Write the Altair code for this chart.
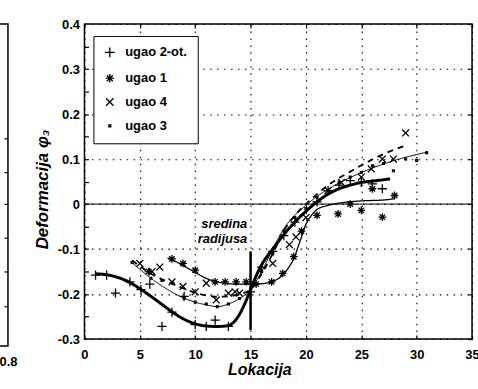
import altair as alt
import pandas as pd

# ---------------- data ----------------
SERIES = ["ugao 2-ot.", "ugao 1", "ugao 4", "ugao 3"]

# fitted curves
A_line_x = [1, 2, 3, 4, 5, 6, 7, 8, 9, 10, 11, 12, 13, 13.5, 14, 14.5, 15, 15.5, 16, 17, 18, 19, 20, 21, 22, 23, 24, 25, 26, 27, 27.6]
A_line_y = [-0.155, -0.157, -0.163, -0.173, -0.188, -0.205, -0.223, -0.241, -0.256, -0.266, -0.271, -0.272, -0.27, -0.262, -0.245, -0.22, -0.19, -0.16, -0.135, -0.1, -0.068, -0.04, -0.016, 0.005, 0.022, 0.034, 0.042, 0.048, 0.051, 0.054, 0.056]

B_line_x = [7.5, 8, 9, 10, 11, 12, 13, 14, 15, 16, 17, 18, 19, 19.5, 20, 20.5, 21, 22, 23, 24, 25, 26, 27, 28]
B_line_y = [-0.12, -0.125, -0.138, -0.152, -0.165, -0.173, -0.177, -0.178, -0.178, -0.177, -0.172, -0.155, -0.115, -0.08, -0.045, -0.025, -0.012, -0.003, 0.002, 0.005, 0.007, 0.008, 0.009, 0.012]

C_line_x = [4.3, 5, 6, 7, 8, 9, 10, 11, 12, 13, 14, 15, 16, 17, 18, 19, 20, 21, 22, 23, 24, 25, 26, 27, 28, 29]
C_line_y = [-0.125, -0.138, -0.155, -0.167, -0.178, -0.188, -0.197, -0.203, -0.206, -0.205, -0.2, -0.19, -0.155, -0.11, -0.06, -0.025, 0.0, 0.022, 0.042, 0.058, 0.072, 0.086, 0.099, 0.111, 0.121, 0.13]

D_line_x = [4.3, 5, 6, 7, 8, 9, 10, 11, 12, 13, 14, 15, 16, 17, 18, 19, 20, 21, 22, 23, 24, 25, 26, 27, 28, 29, 30, 31]
D_line_y = [-0.13, -0.145, -0.165, -0.182, -0.197, -0.209, -0.218, -0.224, -0.228, -0.222, -0.21, -0.19, -0.15, -0.1, -0.055, -0.025, -0.003, 0.017, 0.033, 0.047, 0.059, 0.07, 0.08, 0.089, 0.097, 0.104, 0.11, 0.116]

# measured points
A_pts_x = [1, 2, 2.8, 4.1, 5.1, 5.9, 7, 7.9, 9, 10, 11, 11.8, 13, 15, 16, 17, 18, 19, 21, 22, 23, 24, 25, 26, 26.9]
A_pts_y = [-0.158, -0.158, -0.198, -0.173, -0.19, -0.178, -0.272, -0.24, -0.205, -0.268, -0.272, -0.258, -0.272, -0.195, -0.14, -0.105, -0.07, -0.04, 0.005, 0.03, 0.042, 0.052, 0.048, 0.045, 0.034]

B_pts_x = [5.8, 7.9, 8.9, 10, 11.8, 12.7, 13.7, 14.6, 15.5, 16.9, 17.9, 18.9, 19.6, 21, 22.9, 24, 25, 26, 26.9, 28]
B_pts_y = [-0.15, -0.122, -0.132, -0.147, -0.173, -0.173, -0.173, -0.173, -0.178, -0.173, -0.154, -0.117, -0.06, -0.025, -0.022, 0.0, -0.014, 0.034, -0.029, 0.019]

C_pts_x = [5, 6.1, 6.8, 7.9, 8.9, 10, 11, 11.9, 13, 13.6, 14, 17, 18.5, 19.1, 20, 22, 23.2, 25, 25.9, 26.9, 27.9, 29]
C_pts_y = [-0.132, -0.15, -0.14, -0.173, -0.183, -0.195, -0.176, -0.213, -0.198, -0.195, -0.198, -0.132, -0.09, -0.073, -0.03, 0.03, 0.048, 0.06, 0.078, 0.1, 0.1, 0.158]

D_pts_x = [4.3, 6, 7, 8, 9, 10, 11, 12, 13, 14, 15, 16, 17, 18, 19, 20, 21, 22, 23, 24, 25, 26, 27, 27.9, 29, 30, 30.9]
D_pts_y = [-0.13, -0.165, -0.17, -0.176, -0.209, -0.218, -0.222, -0.228, -0.222, -0.21, -0.19, -0.15, -0.11, -0.06, -0.03, -0.01, 0.015, 0.03, 0.048, 0.06, 0.07, 0.085, 0.09, 0.074, 0.1, 0.097, 0.114]

NOTE_X = [14.7, 14.7]
NOTE_Y = [-0.054, -0.087]
NOTE_T = ["sredina", "radijusa"]

MID_X = [15]
MID_Y1 = [-0.105]
MID_Y2 = [-0.28]

X_TICKS = [0, 5, 10, 15, 20, 25, 30, 35]
Y_TICKS = [-0.3, -0.2, -0.1, 0, 0.1, 0.2, 0.3, 0.4]
Y_MINOR = [-0.25, -0.2, -0.15, -0.1, -0.05, 0, 0.05, 0.1, 0.15, 0.2, 0.25, 0.3, 0.35]
LEFT_PANEL_TICKS = [0.125, 0.23, 0.335, 0.44, 0.54, 0.645]

# ---------------- tables ----------------
lines = pd.concat([
    pd.DataFrame({"s": s, "x": lx, "y": ly})
    for s, lx, ly in zip(SERIES, [A_line_x, B_line_x, C_line_x, D_line_x],
                         [A_line_y, B_line_y, C_line_y, D_line_y])
], ignore_index=True)
pts = pd.concat([
    pd.DataFrame({"s": s, "x": px, "y": py})
    for s, px, py in zip(SERIES, [A_pts_x, B_pts_x, C_pts_x, D_pts_x],
                         [A_pts_y, B_pts_y, C_pts_y, D_pts_y])
], ignore_index=True)
notes = pd.DataFrame({"x": NOTE_X, "y": NOTE_Y, "t": NOTE_T})
mid = pd.DataFrame({"x": MID_X, "y": MID_Y1, "y2": MID_Y2})
zero = pd.DataFrame({"y": [0]})

FONT = "Liberation Sans"
W, H = 390, 317
W1, H1 = 60, 324
PAD_LEFT, PAD_TOP = 7 - W1, 16

SHAPES = [
    "M-1,0L1,0M0,-1L0,1",
    "M-0.85,0L0.85,0M0,-0.85L0,0.85M-0.6,-0.6L0.6,0.6M-0.6,0.6L0.6,-0.6",
    "M-0.75,-0.75L0.75,0.75M-0.75,0.75L0.75,-0.75",
    "M-0.2,-0.2L0.2,-0.2L0.2,0.2L-0.2,0.2Z",
]
LINE_WIDTHS = [3, 1.3, 1.8, 1.0]
LINE_DASHES = [[1, 0], [1, 0], [6, 5], [1, 0]]

xs = alt.Scale(domain=[0, 35], nice=False, zero=False)
ys = alt.Scale(domain=[-0.3, 0.4], nice=False, zero=False)

tick_common = dict(labels=False, domain=False, grid=False, ticks=True, tickSize=4,
                   tickColor="black", tickWidth=1.2, title=None)
grid_common = dict(grid=True, gridDash=[1.5, 5.5], gridColor="black", gridOpacity=1, gridWidth=1.1)

# axis layer with labels and grid
ax_main = alt.Chart(pts).mark_point(opacity=0).encode(
    x=alt.X("x:Q", scale=xs, axis=alt.Axis(
        values=X_TICKS, ticks=False, domain=False, labelFont=FONT, labelFontWeight="bold", labelFontSize=13,
        labelColor="black", labelFlush=False, labelPadding=10, title="Lokacija",
        titleFont=FONT, titleFontSize=16, titleFontStyle="italic", titleFontWeight="bold",
        titleColor="black", titleX=176, titleY=36, titleBaseline="alphabetic", titleAlign="center",
        **grid_common)),
    y=alt.Y("y:Q", scale=ys, axis=alt.Axis(
        values=Y_TICKS, ticks=False, domain=False, labelFont=FONT, labelFontWeight="bold", labelFontSize=13,
        labelColor="black", labelPadding=5, labelFlush=False,
        labelExpr="datum.value == 0 ? '0' : (datum.value < 0 ? '-' : '') + format(abs(datum.value), '.1f')",
        title="Deformacija φ₃", titleFont=FONT, titleFontSize=17, titleFontStyle="italic",
        titleFontWeight="bold", titleColor="black", titleX=-37, titleY=166,
        titleBaseline="alphabetic", titleAlign="center", **grid_common)),
)
# inward ticks on bottom/left
ax_in1 = alt.Chart(pts).mark_point(opacity=0).encode(
    x=alt.X("x:Q", scale=xs, axis=alt.Axis(orient="top", offset=-H, values=X_TICKS, **tick_common)),
    y=alt.Y("y:Q", scale=ys, axis=alt.Axis(orient="right", offset=-W, values=Y_MINOR, **tick_common)),
)
# inward ticks on top/right
ax_in2 = alt.Chart(pts).mark_point(opacity=0).encode(
    x=alt.X("x:Q", scale=xs, axis=alt.Axis(orient="bottom", offset=-H, values=X_TICKS, **tick_common)),
    y=alt.Y("y:Q", scale=ys, axis=alt.Axis(orient="left", offset=-W, values=Y_TICKS, **tick_common)),
)

zero_rule = alt.Chart(zero).mark_rule(color="black", strokeWidth=1).encode(
    y=alt.Y("y:Q", scale=ys, axis=None))

# one line layer per series (fixed styles, so no extra legends get merged with the shape legend)
line_layers = [
    alt.Chart(lines).transform_filter(alt.datum.s == s).mark_line(
        color="black", interpolate="monotone", strokeWidth=w, strokeDash=d).encode(
        x=alt.X("x:Q", scale=xs, axis=None),
        y=alt.Y("y:Q", scale=ys, axis=None),
    )
    for s, w, d in zip(SERIES, LINE_WIDTHS, LINE_DASHES)
]

# legends of a concatenated chart live at the top level: position relative to its origin
pt_layer = alt.Chart(pts).mark_point(filled=False, color="black", strokeWidth=1.3,
                                     size=85, opacity=1).encode(
    x=alt.X("x:Q", scale=xs, axis=None),
    y=alt.Y("y:Q", scale=ys, axis=None),
    shape=alt.Shape("s:N", scale=alt.Scale(domain=SERIES, range=SHAPES), legend=alt.Legend(
        title=None, orient="none", legendX=93 - PAD_LEFT, legendY=28 - PAD_TOP,
        strokeColor="black", fillColor="white",
        padding=10, rowPadding=10, labelFont=FONT, labelFontWeight="bold", labelFontSize=13,
        labelColor="black", symbolSize=100, symbolStrokeWidth=1.3, symbolStrokeColor="black",
        labelOffset=9, cornerRadius=0)),
)

mid_rule = alt.Chart(mid).mark_rule(color="black", strokeWidth=2.5).encode(
    x=alt.X("x:Q", scale=xs, axis=None),
    y=alt.Y("y:Q", scale=ys, axis=None),
    y2="y2:Q",
)

note_layer = alt.Chart(notes).mark_text(align="right", baseline="alphabetic", font=FONT,
                                        fontSize=13, fontStyle="italic", fontWeight="bold",
                                        color="black").encode(
    x=alt.X("x:Q", scale=xs, axis=None),
    y=alt.Y("y:Q", scale=ys, axis=None),
    text="t:N",
)

main = alt.layer(ax_main, ax_in1, ax_in2, zero_rule, *line_layers, mid_rule, note_layer, pt_layer).resolve_axis(
    x="independent", y="independent").properties(width=W, height=H)

# right edge of the neighbouring (cropped) panel
left_df = pd.DataFrame({"x": [0.4], "y": [0.5]})
left = alt.Chart(left_df).mark_point(opacity=0).encode(
    x=alt.X("x:Q", scale=alt.Scale(domain=[0, 0.8], nice=False), axis=alt.Axis(
        values=[0.8], ticks=False, domain=False, grid=False, labelFont=FONT, labelFontWeight="bold",
        labelFontSize=13, labelColor="black", labelFlush=False, labelPadding=10, title=None,
        labelExpr="'0.8'")),
    y=alt.Y("y:Q", scale=alt.Scale(domain=[0, 1], nice=False), axis=alt.Axis(
        orient="left", offset=-W1, values=LEFT_PANEL_TICKS, **tick_common)),
).properties(width=W1, height=H1)

chart = alt.hconcat(left, main, spacing=15).properties(
    padding={"left": PAD_LEFT, "top": PAD_TOP, "right": -2, "bottom": 0},
    background="white",
).configure_view(stroke="black", strokeWidth=1.5)

chart.save("out.html", embed_options={"renderer": "svg", "actions": False})
